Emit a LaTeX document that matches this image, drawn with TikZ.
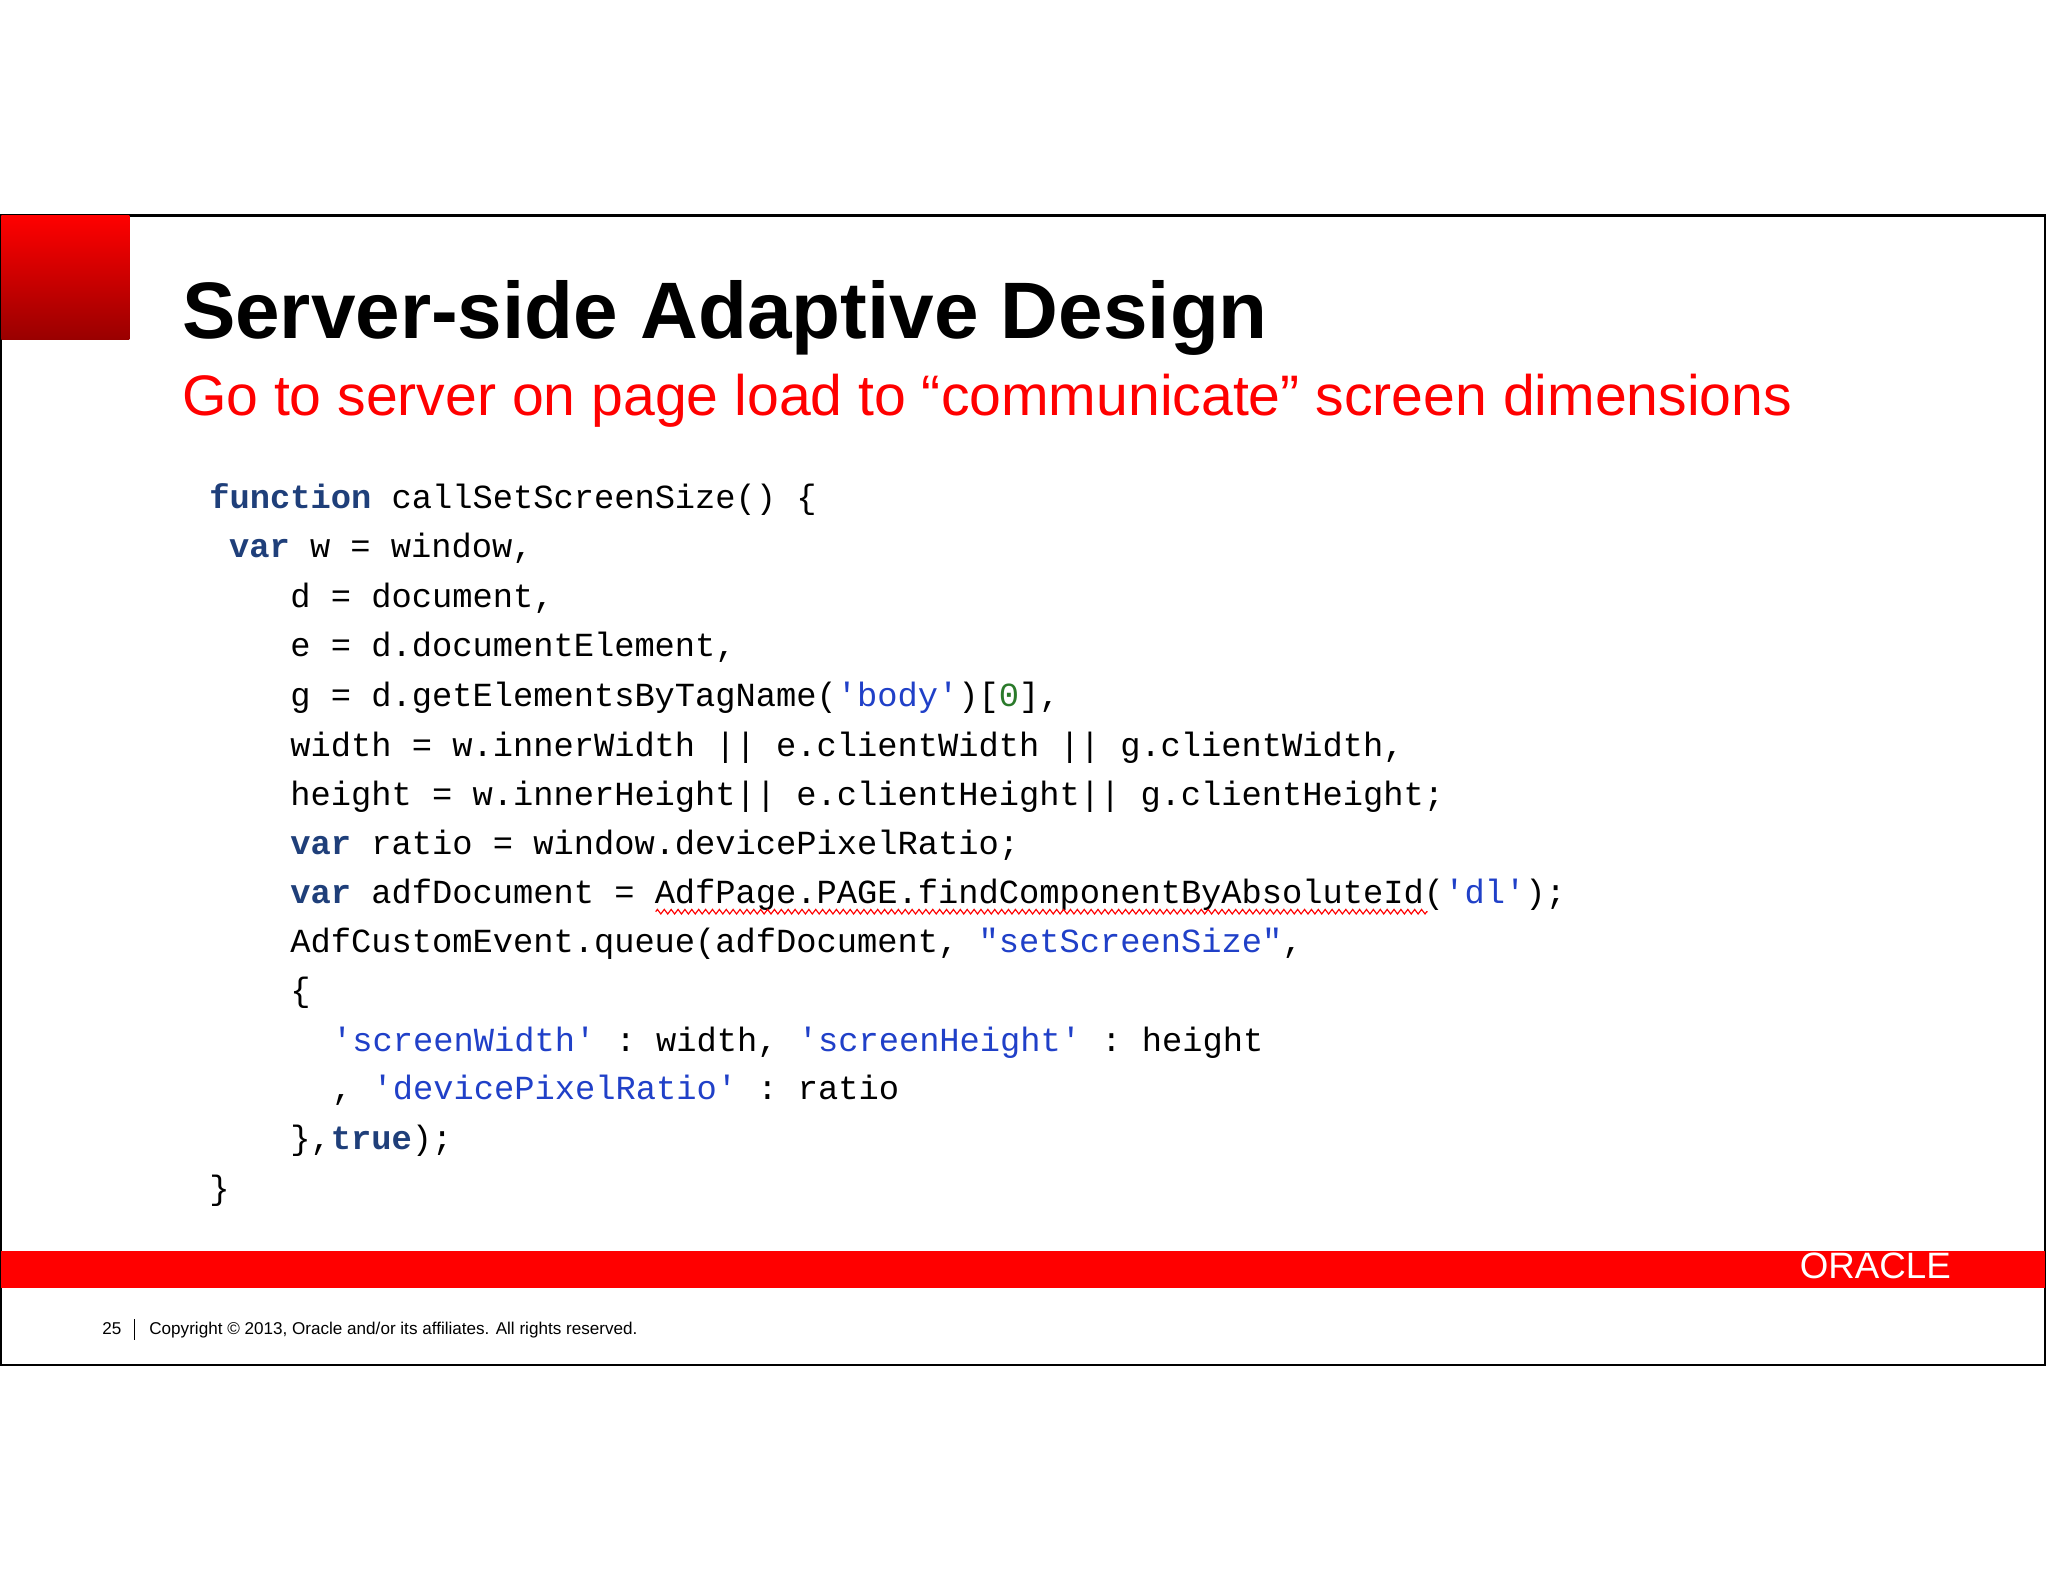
\documentclass[tikz,border=0pt]{standalone}
\usepackage{fontspec}
\setmainfont{Liberation Sans}
\setmonofont{Liberation Mono}
\usetikzlibrary{decorations.pathmorphing}
\definecolor{oraRed}{HTML}{FF0000}
\definecolor{kw}{HTML}{1F3F7A}
\definecolor{str}{HTML}{2040C8}
\definecolor{num}{HTML}{2A7A2A}
\newcommand{\kwd}[1]{\textcolor{kw}{\textbf{#1}}}
\newcommand{\strg}[1]{\textcolor{str}{#1}}
\begin{document}
\begin{tikzpicture}[x=0.02cm,y=-0.02cm,
  code/.style={anchor=base west,inner sep=0pt,font=\ttfamily\fontsize{14.7}{18}\selectfont},
  foot/.style={anchor=base west,inner sep=0pt,font=\fontsize{7.45}{9}\selectfont}]
\useasboundingbox (0,0) rectangle (1568,1211);
\fill[white] (0,0) rectangle (1568,1211);
\draw[line width=0.9pt] (1,165) rectangle (1566,1045);
\shade[top color=oraRed,bottom color=oraRed!60!black] (1,165) rectangle (99,260);
\node[anchor=base west,inner sep=0pt,font=\bfseries\fontsize{34.9}{40}\selectfont] (title) at (139,259) {Server-side Adaptive Design};
\node[anchor=base west,inner sep=0pt,text=oraRed,font=\fontsize{24.9}{30}\selectfont] (sub) at (139,318) {Go to server on page load to “communicate” screen dimensions};
\node[code] (l1) at (160,389) {\kwd{function} callSetScreenSize() \{};
\node[code] (l2) at (175,427) {\kwd{var} w = window,};
\node[code] (l3) at (222,465) {d = document,};
\node[code] (l4) at (222,503) {e = d.documentElement,};
\node[code] (l5) at (222,541) {g = d.getElementsByTagName(\strg{'body'})[\textcolor{num}{0}],};
\node[code] (l6) at (222,579) {width = w.innerWidth || e.clientWidth || g.clientWidth,};
\node[code] (l7) at (222,617) {height = w.innerHeight|| e.clientHeight|| g.clientHeight;};
\node[code] (l8) at (222,654) {\kwd{var} ratio = window.devicePixelRatio;};
\node[code] (l9) at (222,692) {\kwd{var} adfDocument = AdfPage.PAGE.findComponentByAbsoluteId(\strg{'dl'});};
\node[code] (l10) at (222,729) {AdfCustomEvent.queue(adfDocument, \strg{"setScreenSize"},};
\node[code] (l11) at (222,767) {\{};
\node[code] (l12) at (254,805) {\strg{'screenWidth'} : width, \strg{'screenHeight'} : height};
\node[code] (l13) at (254,842) {, \strg{'devicePixelRatio'} : ratio};
\node[code] (l14) at (222,880) {\},\kwd{true});};
\node[code] (l15) at (160,918) {\}};
\draw[red,line width=0.5pt,decorate,decoration={zigzag,segment length=3pt,amplitude=1pt}] (502,698) -- (1093,698);
\fill[oraRed] (1,958) rectangle (1566,986);
\node[anchor=base east,inner sep=0pt,text=white,font=\fontsize{16}{16}\selectfont] (logo) at (1494,979) {ORACLE};
\node[foot] (pg) at (78,1022) {25};
\node[foot] (copy) at (114,1022) {Copyright © 2013, Oracle and/or its affiliates. All rights reserved.};
\draw[line width=0.5pt] (103,1010) -- (103,1026);
\end{tikzpicture}
\end{document}
